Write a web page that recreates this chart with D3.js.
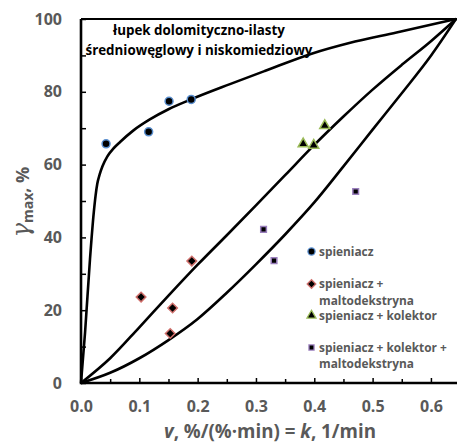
<!DOCTYPE html>
<html><head><meta charset="utf-8">
<script src="https://cdn.jsdelivr.net/npm/d3@7"></script>
<style>body{margin:0;background:#fff}svg{display:block}</style>
</head><body>
<svg id="c" width="457" height="442"></svg>
<script>
// ---- data ----
const xTicks = [0, 0.1, 0.2, 0.3, 0.4, 0.5, 0.6];
const yTicks = [0, 20, 40, 60, 80, 100];
const spieniacz = [[0.043, 65.7], [0.116, 69.0], [0.151, 77.4], [0.189, 77.9]];
const spieniaczMalto = [[0.103, 23.6], [0.157, 20.6], [0.153, 13.6], [0.190, 33.5]];
const spieniaczKolektor = [[0.381, 65.7], [0.399, 65.3], [0.418, 70.7]];
const spieniaczKolektorMalto = [[0.313, 42.2], [0.331, 33.6], [0.471, 52.6]];
const curveUpper = [[0,0],[0.007,14],[0.0154,34],[0.022,47],[0.025,51.5],[0.028,54.8],[0.032,57.3],[0.037,59.6],[0.045,62.2],[0.055,64.3],[0.067,66.2],[0.09,69.4],[0.118,72.4],[0.15,75.2],[0.187,77.8],[0.2554,82.1],[0.315,85.7],[0.398,90.6],[0.46,93.4],[0.541,96.3],[0.643,100]];
const curveMiddle = [[0,0],[0.05,6.8],[0.10,15.3],[0.15,24.0],[0.20,32.5],[0.25,40.6],[0.30,48.8],[0.35,57.1],[0.40,65.4],[0.45,73.2],[0.50,80.6],[0.55,87.4],[0.60,93.9],[0.643,100]];
const curveLower = [[0,0],[0.05,2.8],[0.10,6.8],[0.15,11.8],[0.20,17.6],[0.25,24.8],[0.30,32.6],[0.35,40.8],[0.40,49.6],[0.45,59.5],[0.50,69.6],[0.55,79.6],[0.60,89.9],[0.643,100]];
const legendLabels = [["spieniacz"], ["spieniacz +", "maltodekstryna"], ["spieniacz + kolektor"], ["spieniacz + kolektor +", "maltodekstryna"]];
const titleLines = ["łupek dolomityczno-ilasty", "średniowęglowy i niskomiedziowy"];

// ---- layout ----
const svg = d3.select("#c");
const L = 81, T = 19, R = 456, B = 383;
const x = d3.scaleLinear().domain([0, 0.643]).range([L, R]);
const y = d3.scaleLinear().domain([0, 100]).range([B, T]);
const gray = "#595959";
const font = "'Open Sans', Lato, sans-serif";

function fit(sel, w) {
  const len = sel.node().getComputedTextLength();
  const fs = parseFloat(sel.attr("font-size"));
  sel.attr("font-size", (fs * w / len).toFixed(2));
  return fs * w / len;
}

// curves
const line = d3.line().x(d => x(d[0])).y(d => y(d[1])).curve(d3.curveMonotoneX);
[curveUpper, curveMiddle, curveLower].forEach(c => {
  svg.append("path").attr("d", line(c)).attr("fill", "none").attr("stroke", "#000").attr("stroke-width", 2.6);
});

// axes
const xMinor = d3.range(0.05, 0.643, 0.1);
const yMinor = d3.range(10, 100, 20);
const gx = svg.append("g").attr("transform", `translate(0,${B})`);
gx.call(d3.axisBottom(x).tickValues(xTicks).tickSize(-5).tickFormat(d3.format(".1f")).tickPadding(18));
gx.append("g").call(d3.axisBottom(x).tickValues(xMinor).tickSize(-4).tickFormat(""));
const gy = svg.append("g").attr("transform", `translate(${L},0)`);
gy.call(d3.axisLeft(y).tickValues(yTicks).tickSize(-5).tickFormat(d3.format("d")).tickPadding(19));
gy.append("g").call(d3.axisLeft(y).tickValues(yMinor).tickSize(-5).tickFormat(""));
svg.selectAll(".domain").remove();
svg.selectAll(".tick line").attr("stroke", "#000").attr("stroke-width", 1.5);
svg.selectAll(".tick text").attr("fill", gray).attr("font-family", font).attr("font-weight", "bold").attr("font-size", 16);
// frame lines
svg.append("line").attr("x1", L).attr("x2", R + 1).attr("y1", B).attr("y2", B).attr("stroke", "#000").attr("stroke-width", 2.6);
svg.append("line").attr("x1", L).attr("x2", L).attr("y1", T).attr("y2", B + 1.3).attr("stroke", "#000").attr("stroke-width", 2.6);
svg.append("line").attr("x1", L).attr("x2", R + 1).attr("y1", T).attr("y2", T).attr("stroke", "#000").attr("stroke-width", 2);

// markers
const styles = [
  {data: spieniacz, type: d3.symbolCircle, size: 50, stroke: "#5a8fd0", rot: 0},
  {data: spieniaczMalto, type: d3.symbolSquare, size: 46, stroke: "#d0706c", rot: 45},
  {data: spieniaczKolektor, type: d3.symbolTriangle, size: 44, stroke: "#9bbb59", rot: 0},
  {data: spieniaczKolektorMalto, type: d3.symbolSquare, size: 32, stroke: "#9a7fbd", rot: 0}
];
styles.forEach(s => {
  svg.append("g").selectAll("path").data(s.data).join("path")
    .attr("d", d3.symbol().type(s.type).size(s.size))
    .attr("transform", d => `translate(${x(d[0])},${y(d[1])}) rotate(${s.rot})`)
    .attr("fill", "#000").attr("stroke", s.stroke).attr("stroke-width", 1.5);
});

// legend
const legendY = [251.5, 284, 315.5, 347.5];
const probe = svg.append("text").attr("font-family", font).attr("font-weight", "bold").attr("font-size", 13).text(legendLabels[2][0]);
const legFs = fit(probe, 118);
probe.remove();
legendLabels.forEach((lines, i) => {
  const s = styles[i];
  svg.append("path").attr("d", d3.symbol().type(s.type).size(s.size * 0.8)())
    .attr("transform", `translate(311.5,${legendY[i]}) rotate(${s.rot})`)
    .attr("fill", "#000").attr("stroke", s.stroke).attr("stroke-width", 1.3);
  lines.forEach((t, k) => {
    svg.append("text").attr("x", 319).attr("y", legendY[i] + k * 16.7).attr("dy", "0.35em")
      .attr("fill", gray).attr("font-family", font).attr("font-weight", "bold").attr("font-size", legFs)
      .text(t);
  });
});

// title
const titleW = [172, 227];
const titleBase = [34.5, 55];
titleLines.forEach((t, k) => {
  const tt = svg.append("text").attr("x", 199).attr("y", titleBase[k])
    .attr("text-anchor", "middle").attr("fill", "#000").attr("font-family", font)
    .attr("font-weight", "bold").attr("font-size", 13.5).text(t);
  fit(tt, titleW[k]);
});

// y axis title
const yt = svg.append("text").attr("transform", "translate(29,202) rotate(-90)")
  .attr("text-anchor", "middle").attr("fill", gray).attr("font-family", font).attr("font-weight", "bold").attr("font-size", 18);
yt.append("tspan").attr("font-family", "'DejaVu Serif', serif").attr("font-style", "italic").attr("font-weight", "normal").attr("font-size", 24).text("γ");
yt.append("tspan").attr("font-size", 14).attr("dy", 4).text("max");
yt.append("tspan").attr("dy", -4).text(", %");

// x axis title
const xt = svg.append("text").attr("x", 270).attr("y", 438)
  .attr("text-anchor", "middle").attr("fill", gray).attr("font-family", font).attr("font-weight", "bold").attr("font-size", 17);
xt.append("tspan").attr("font-style", "italic").text("v");
xt.append("tspan").text(", %/(%·min) = ");
xt.append("tspan").attr("font-style", "italic").text("k");
xt.append("tspan").text(", 1/min");
fit(xt, 212);
</script>
</body></html>
